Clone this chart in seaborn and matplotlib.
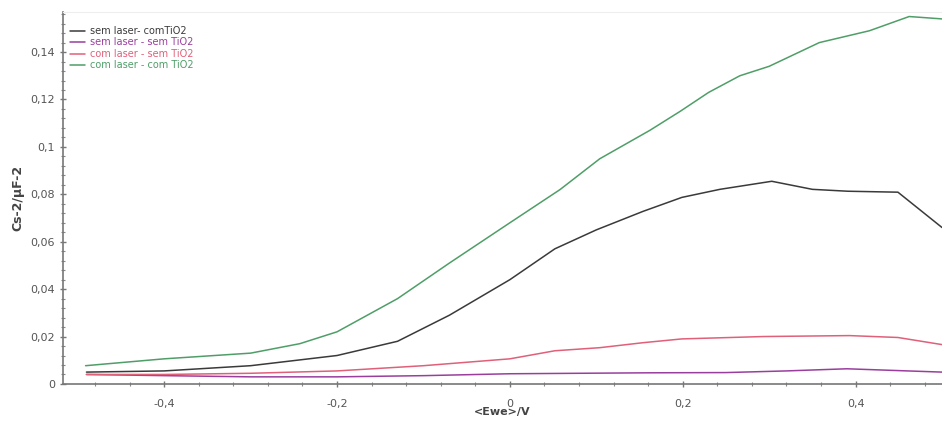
import matplotlib
matplotlib.use("Agg")
import matplotlib.pyplot as plt
import matplotlib.ticker as mticker
import pandas as pd
import seaborn as sns

# sem laser - com TiO2
ewe_black = [-0.49, -0.4, -0.3, -0.2, -0.13, -0.07, 0.0, 0.052, 0.1, 0.154, 0.199, 0.243, 0.303, 0.35, 0.391, 0.449, 0.5]
cs_black = [0.0050, 0.0055, 0.0077, 0.0120, 0.0180, 0.0290, 0.0440, 0.0570, 0.0650, 0.0728, 0.0787, 0.0821, 0.0855, 0.0821, 0.0813, 0.0809, 0.0660]

# sem laser - sem TiO2
ewe_purple = [-0.49, -0.4, -0.3, -0.2, -0.1, 0.0, 0.16, 0.25, 0.32, 0.39, 0.46, 0.5]
cs_purple = [0.0040, 0.0035, 0.0030, 0.0030, 0.0035, 0.0043, 0.0047, 0.0048, 0.0055, 0.0064, 0.0055, 0.0050]

# com laser - sem TiO2
ewe_red = [-0.49, -0.4, -0.3, -0.2, -0.1, 0.0, 0.052, 0.104, 0.154, 0.199, 0.293, 0.393, 0.449, 0.5]
cs_red = [0.0040, 0.0040, 0.0045, 0.0055, 0.0077, 0.0106, 0.0140, 0.0153, 0.0174, 0.0190, 0.0200, 0.0204, 0.0196, 0.0166]

# com laser - com TiO2
ewe_green = [-0.491, -0.4, -0.3, -0.243, -0.2, -0.13, -0.07, 0.0, 0.058, 0.104, 0.162, 0.197, 0.23, 0.266, 0.3, 0.358, 0.416, 0.462, 0.5]
cs_green = [0.0077, 0.0106, 0.0130, 0.0170, 0.0220, 0.0360, 0.0510, 0.0680, 0.0820, 0.0950, 0.1070, 0.1150, 0.1230, 0.1300, 0.1340, 0.1440, 0.1490, 0.1550, 0.1540]

labels = ["sem laser- comTiO2", "sem laser - sem TiO2", "com laser - sem TiO2", "com laser - com TiO2"]
colors = ["#3a3a3a", "#9a3e9e", "#e0607a", "#4f9e68"]

sns.set_style("white")
plt.rcParams['font.family'] = ['DejaVu Sans']

fig = plt.figure(figsize=(9.42, 4.21), dpi=100)
ax = fig.add_axes([0.067, 0.088, 0.933, 0.884])

series = [(ewe_black, cs_black), (ewe_purple, cs_purple), (ewe_red, cs_red), (ewe_green, cs_green)]
for (xs, ys), lab, col in zip(series, labels, colors):
    df = pd.DataFrame({"x": xs, "y": ys})
    sns.lineplot(data=df, x="x", y="y", ax=ax, color=col, linewidth=1.1, label=lab)

ax.set_xlim(-0.517, 0.5)
ax.set_ylim(0, 0.157)

comma = mticker.FuncFormatter(lambda v, p: ("%g" % round(v, 3)).replace(".", ","))
ax.xaxis.set_major_locator(mticker.MultipleLocator(0.2))
ax.xaxis.set_minor_locator(mticker.MultipleLocator(0.04))
ax.yaxis.set_major_locator(mticker.MultipleLocator(0.02))
ax.yaxis.set_minor_locator(mticker.MultipleLocator(0.004))
ax.xaxis.set_major_formatter(comma)
ax.yaxis.set_major_formatter(comma)

ax.tick_params(axis="both", which="major", labelsize=8, labelcolor="#555555", colors="#777777",
               length=5, width=1, direction="inout", bottom=True, left=True)
ax.tick_params(axis="x", which="major", pad=8)
ax.tick_params(axis="both", which="minor", length=3, width=0.8, colors="#888888",
               direction="inout", bottom=True, left=True)

ax.spines["right"].set_visible(False)
ax.spines["top"].set_color("#eeeeee")
ax.spines["left"].set_color("#777777")
ax.spines["bottom"].set_color("#777777")
ax.spines["left"].set_linewidth(1.2)
ax.spines["bottom"].set_linewidth(1.2)

ax.set_xlabel("<Ewe>/V", fontsize=8, fontweight="bold", color="#444444", labelpad=-1)
ax.set_ylabel("Cs-2/µF-2", fontsize=9, fontweight="bold", color="#444444", labelpad=4)

leg = ax.legend(loc="upper left", frameon=False, fontsize=7, handlelength=1.6,
                handletextpad=0.5, labelspacing=0.15, borderaxespad=0.3,
                bbox_to_anchor=(0.0, 0.98))
for txt, col in zip(leg.get_texts(), colors):
    txt.set_color(col)

fig.savefig("out.png", dpi=100)
plt.close(fig)
